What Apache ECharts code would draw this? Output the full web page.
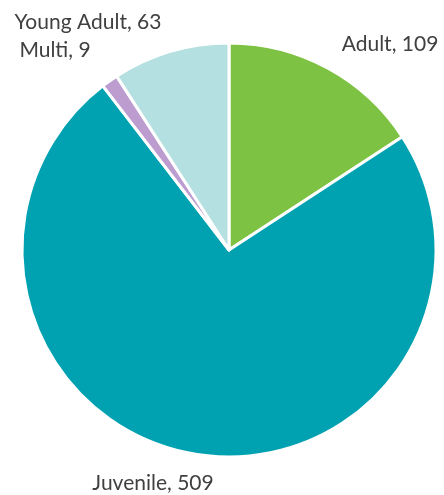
<!DOCTYPE html>
<html><head><meta charset="utf-8">
<script src="https://cdn.jsdelivr.net/npm/echarts@6/dist/echarts.min.js"></script>
<style>html,body{margin:0;padding:0;background:#fff}#c{width:444px;height:495px}</style>
</head><body><div id="c"></div>
<script>
const categories = ["Adult", "Juvenile", "Multi", "Young Adult"];
const values = [109, 509, 9, 63];
const colors = ["#7DC242", "#00A2B1", "#BD9DCF", "#B5E0E1"];
const labelPos = [[390, 44], [153, 483], [55, 50], [88, 22]];

const chart = echarts.init(document.getElementById('c'));
chart.setOption({
  animation: false,
  series: [{
    type: 'pie',
    center: [229, 250],
    radius: [0, 207],
    startAngle: 90,
    clockwise: true,
    itemStyle: { borderColor: '#fff', borderWidth: 3 },
    label: {
      show: true,
      position: 'outside',
      formatter: p => p.name + ', ' + p.value,
      fontFamily: 'Lato, sans-serif',
      fontSize: 21,
      color: '#404040',
      overflow: 'none',
      width: 300
    },
    labelLine: { show: false },
    labelLayout: p => ({ x: labelPos[p.dataIndex][0], y: labelPos[p.dataIndex][1], align: 'center', verticalAlign: 'middle', width: 300 }),
    data: categories.map((c, i) => ({ name: c, value: values[i], itemStyle: { color: colors[i] } }))
  }]
});
</script></body></html>
